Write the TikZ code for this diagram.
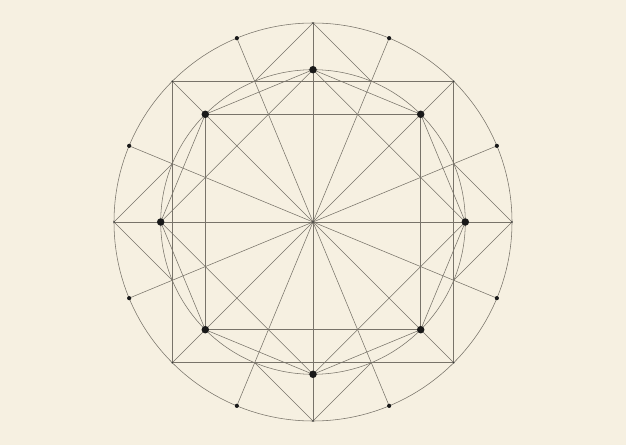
\documentclass[tikz,border=0pt]{standalone}
\definecolor{bg}{RGB}{246,240,225}
\definecolor{ln}{RGB}{120,115,105}
\begin{document}
\begin{tikzpicture}[x=1pt,y=1pt,
  geo/.style={draw=ln,line width=0.55pt},
  bigdot/.style={circle,fill=black!90,inner sep=0pt,minimum size=7.5pt},
  smalldot/.style={circle,fill=black!90,inner sep=0pt,minimum size=4.2pt},
  tinydot/.style={circle,fill=black!80,inner sep=0pt,minimum size=1.8pt}]
\fill[bg] (0,0) rectangle (626,445);
\useasboundingbox (0,0) rectangle (626,445);
\coordinate (C) at (313,223);
\foreach \k in {0,...,15} \path (C) ++({\k*22.5}:199) coordinate (O\k);
\foreach \k in {0,...,7} \path (C) ++({\k*45}:152.3) coordinate (I\k);
\foreach \k in {0,...,7} \path (C) ++({22.5+\k*45}:152.3) coordinate (J\k);
% circles
\draw[geo] (C) circle (199);
\draw[geo] (C) circle (152.3);
% spokes
\foreach \k [evaluate=\k as \m using int(\k+8)] in {0,...,7} \draw[geo] (O\k) -- (O\m);
% outer square
\draw[geo] (O2) -- (O6) -- (O10) -- (O14) -- cycle;
% star tips at the cardinal points
\draw[geo] (J7) -- (O0) -- (J0);
\draw[geo] (J1) -- (O4) -- (J2);
\draw[geo] (J3) -- (O8) -- (J4);
\draw[geo] (J5) -- (O12) -- (J6);
% inner square, diamond, octagon
\draw[geo] (I1) -- (I3) -- (I5) -- (I7) -- cycle;
\draw[geo] (I0) -- (I2) -- (I4) -- (I6) -- cycle;
\draw[geo] (I0) -- (I1) -- (I2) -- (I3) -- (I4) -- (I5) -- (I6) -- (I7) -- cycle;
% dots
\foreach \k in {0,...,7} \node[bigdot] (D\k) at (I\k) {};
\foreach \k in {1,3,...,15} \node[smalldot] (S\k) at (O\k) {};
\foreach \k in {0,2,...,14} \node[tinydot] (T\k) at (O\k) {};
\node[tinydot] (Cd) at (C) {};
\end{tikzpicture}
\end{document}
